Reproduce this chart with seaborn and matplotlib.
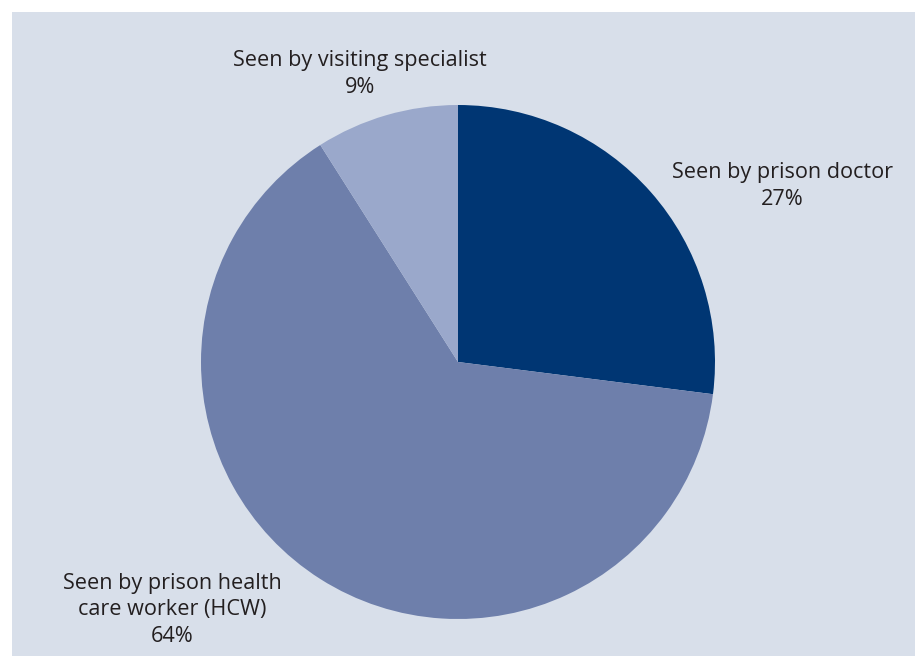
import matplotlib
matplotlib.use("Agg")
import matplotlib.pyplot as plt
from matplotlib.patches import Rectangle
import seaborn as sns

categories = ["Seen by prison doctor",
              "Seen by prison health\ncare worker (HCW)",
              "Seen by visiting specialist"]
shares = [27, 64, 9]
colors = ["#003673", "#6e7fab", "#9aa8cb"]

sns.set_theme(style="white")
plt.rcParams["font.family"] = ["Open Sans", "DejaVu Sans"]

W, H = 915, 656
fig = plt.figure(figsize=(W / 100, H / 100), dpi=100, facecolor="white")
ax = fig.add_axes([0, 0, 1, 1])

# shaded panel behind the chart
ax.add_patch(Rectangle((12, 0), W - 12, H - 12, facecolor="#d8dfea",
                       edgecolor="none", zorder=0))

ax.pie(shares, colors=colors, startangle=90, counterclock=False,
       center=(458, H - 362), radius=257, frame=True,
       wedgeprops=dict(linewidth=0, zorder=2))
ax.set_xlim(0, W)
ax.set_ylim(0, H)
ax.set_aspect("equal")
ax.axis("off")

label_pos = [(782, H - 186), (172, H - 610), (360, H - 74)]
for name, val, (x, y) in zip(categories, shares, label_pos):
    ax.text(x, y, f"{name}\n{val}%", ha="center", va="center",
            fontsize=15.6, color="#231f20", linespacing=1.32, zorder=3)

fig.savefig("out.png", dpi=100, facecolor="white")
